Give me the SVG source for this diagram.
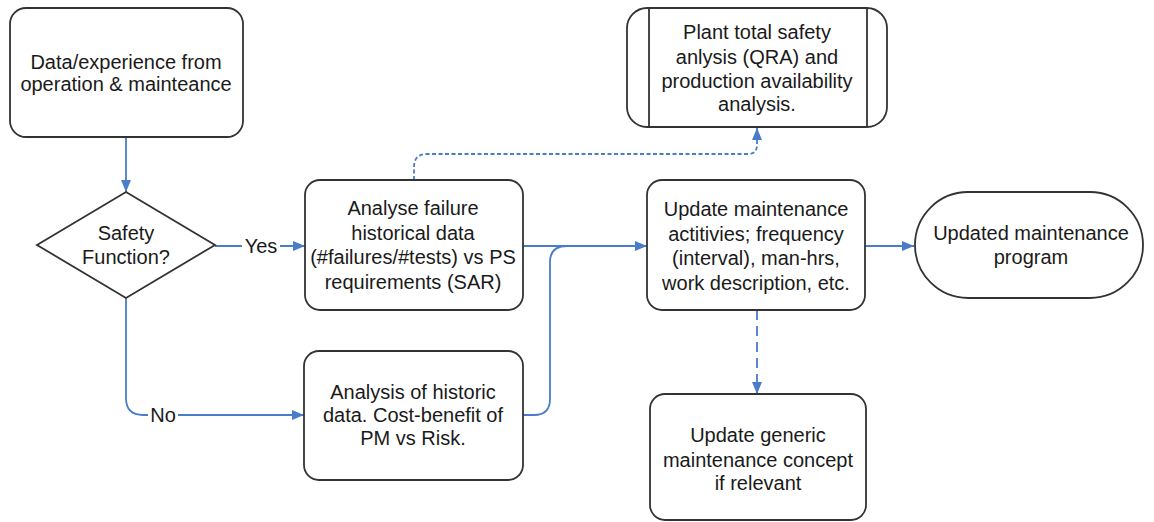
<svg xmlns="http://www.w3.org/2000/svg" width="1154" height="522" viewBox="0 0 1154 522">
<style>
.box{fill:#fff;stroke:#333;stroke-width:1.8}
.t{font-family:"Liberation Sans",Arial,sans-serif;font-size:20px;fill:#1a1a1a;text-anchor:middle}
.c{fill:none;stroke:#4a7cc9;stroke-width:1.8}
.dot{stroke-dasharray:4 2.5}
.dash{stroke-dasharray:10 6}
</style>
<defs>
<marker id="ah" viewBox="0 0 12 10" refX="12" refY="5" markerWidth="12" markerHeight="10" markerUnits="userSpaceOnUse" orient="auto">
<path d="M0,0 L12,5 L0,10 Z" fill="#4a7cc9"/>
</marker>
</defs>
<rect width="1154" height="522" fill="#fff"/>
<g id="connectors">
<path class="c" d="M126,137 V192" marker-end="url(#ah)"/>
<path class="c" d="M215,246 H305" marker-end="url(#ah)"/>
<path class="c" d="M523,246 H647" marker-end="url(#ah)"/>
<path class="c" d="M126,298 V398 Q126,415 143,415 H304" marker-end="url(#ah)"/>
<path class="c" d="M523,415 H534 Q550,415 550,399 V262 Q550,246 567,246 H600"/>
<path class="c" d="M865,246 H914" marker-end="url(#ah)"/>
<path class="c dot" d="M414,180 V167 Q414,154 427,154 H748 Q757,154 757,145 V128" marker-end="url(#ah)"/>
<path class="c dash" d="M757,310 V394" marker-end="url(#ah)"/>
<rect x="242" y="236" width="38" height="20" fill="#fff"/>
<text class="t" x="261" y="253">Yes</text>
<rect x="148" y="405" width="30" height="20" fill="#fff"/>
<text class="t" x="163" y="422">No</text>
</g>
<g id="n1">
<rect class="box" x="10" y="8" width="233" height="129" rx="16"/>
<text class="t" x="126" y="69">Data/experience from</text>
<text class="t" x="126" y="91">operation &amp; mainteance</text>
</g>
<g id="n2">
<path class="box" d="M126,192 L215,245 L126,298 L37,245 Z"/>
<text class="t" x="126" y="240">Safety</text>
<text class="t" x="126" y="264">Function?</text>
</g>
<g id="n3">
<rect class="box" x="305" y="180" width="218" height="130" rx="15"/>
<text class="t" x="413" y="215">Analyse failure</text>
<text class="t" x="413" y="240">historical data</text>
<text class="t" x="413" y="264">(#failures/#tests) vs PS</text>
<text class="t" x="413" y="289">requirements (SAR)</text>
</g>
<g id="n4">
<rect class="box" x="304" y="351" width="219" height="129" rx="15"/>
<text class="t" x="413" y="399">Analysis of historic</text>
<text class="t" x="413" y="422">data. Cost-benefit of</text>
<text class="t" x="413" y="445">PM vs Risk.</text>
</g>
<g id="n5">
<rect class="box" x="627" y="8" width="260" height="119" rx="20"/>
<line class="box" x1="649" y1="8" x2="649" y2="127"/>
<line class="box" x1="867" y1="8" x2="867" y2="127"/>
<text class="t" x="757" y="39">Plant total safety</text>
<text class="t" x="757" y="64">anlysis (QRA) and</text>
<text class="t" x="757" y="88">production availability</text>
<text class="t" x="757" y="111">analysis.</text>
</g>
<g id="n6">
<rect class="box" x="647" y="180" width="218" height="130" rx="15"/>
<text class="t" x="756" y="216">Update maintenance</text>
<text class="t" x="756" y="241">actitivies; frequency</text>
<text class="t" x="756" y="265">(interval), man-hrs,</text>
<text class="t" x="756" y="290">work description, etc.</text>
</g>
<g id="n7">
<rect class="box" x="915" y="192" width="228" height="106" rx="53"/>
<text class="t" x="1031" y="240">Updated maintenance</text>
<text class="t" x="1031" y="264">program</text>
</g>
<g id="n8">
<rect class="box" x="650" y="394" width="216" height="126" rx="15"/>
<text class="t" x="758" y="442">Update generic</text>
<text class="t" x="758" y="467">maintenance concept</text>
<text class="t" x="758" y="490">if relevant</text>
</g>
</svg>
